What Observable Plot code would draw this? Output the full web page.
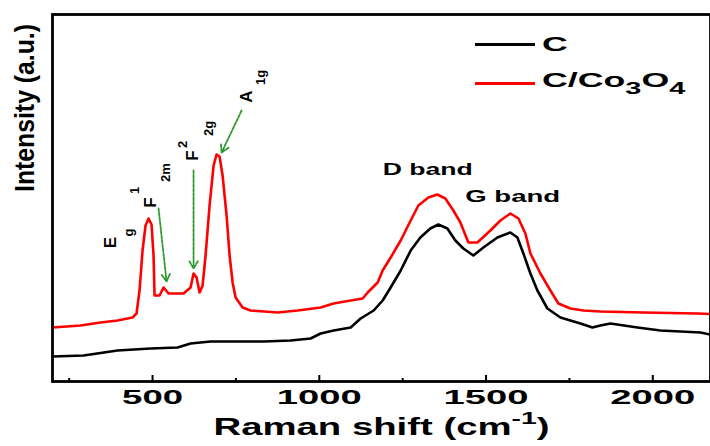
<!DOCTYPE html>
<html><head><meta charset="utf-8">
<script src="https://cdn.jsdelivr.net/npm/d3@7"></script>
<script src="https://cdn.jsdelivr.net/npm/@observablehq/plot@0.6"></script>
<style>
body{margin:0;background:#fff;}
#wrap{position:relative;width:710px;height:446px;font-family:"Liberation Sans",Arial,sans-serif;font-weight:bold;}
.leg{position:absolute;display:flex;align-items:center;font-size:21px;white-space:nowrap;}
.leg span.ln{display:inline-block;width:60px;height:3px;margin-right:7px;}
.leg span.tx{display:inline-block;transform:scaleX(1.7);transform-origin:left center;}
.leg sub{font-size:17px;vertical-align:-7px;}
</style></head>
<body><div id="wrap"></div>
<script>
// Raman shift (cm^-1) and intensity (a.u.)
const cX = [200,293,395,494,575,614,674,833,914,974,1004,1043,1094,1124,1163,1190,1214,1244,1274,1303,1333,1357,1384,1408,1432,1462,1492,1534,1573,1594,1612,1633,1654,1684,1723,1783,1819,1843,1873,1954,2023,2143,2200];
const cY = [25,26,31,33,34,38,40,40,41,43,48,51,54,63,71,81,94,111,131,144,153,157,153,141,133,126,134,144,149,144,128,108,91,73,64,58,54,56,58,54,51,49,45];
const coX = [200,284,344,395,440,452,461,470,479,488,497,503,506,521,533,548,593,614,623,632,641,650,659,671,683,692,701,710,722,731,740,749,770,794,875,935,1004,1043,1094,1130,1145,1175,1190,1214,1244,1274,1297,1327,1354,1378,1402,1423,1447,1474,1513,1543,1573,1597,1618,1633,1663,1693,1717,1753,1792,1843,1972,2134,2200];
const coY = [54,56,59,61,64,68,91,131,156,163,157,126,86,86,94,88,88,94,108,104,89,96,126,176,216,227,225,206,166,126,99,84,74,71,69,71,74,78,81,83,89,99,111,124,141,161,176,184,187,183,171,159,139,139,151,161,168,163,148,128,108,91,78,73,71,70,69,68,67];
const xTicks = [500,1000,1500,2000];
const xMinor = [250,750,1250,1750,2250];
const seriesNames = ["C","C/Co3O4"];
const seriesColors = ["#000000","#ff0000"];
// peak annotation pieces (rotated): main glyphs and sub/superscripts
const peakMain = ["E","F","F","A"];
const peakMainX = [374,494,620,782];
const peakMainY = [139,179,226,285];
const peakSub = ["g","1","2m","2","2g","1g"];
const peakSubX = [428,446,539,590,668,824];
const peakSubY = [149,191,209,237,253,304];
// arrows: from -> to
const arrX1 = [518,623,767];
const arrY1 = [173,211,271];
const arrX2 = [542,623,707];
const arrY2 = [100,113,229];
// band labels
const bandText = ["D band","G band"];
const bandX = [1325,1580];
const bandY = [212,185];

const rows = [];
cX.forEach((x,i)=>rows.push({s:seriesNames[0],x,y:cY[i]}));
coX.forEach((x,i)=>rows.push({s:seriesNames[1],x,y:coY[i]}));
const mains = peakMain.map((t,i)=>({t,x:peakMainX[i],y:peakMainY[i]}));
const subs = peakSub.map((t,i)=>({t,x:peakSubX[i],y:peakSubY[i]}));
const arrows = arrX1.map((x1,i)=>({x1,y1:arrY1[i],x2:arrX2[i],y2:arrY2[i]}));
const bands = bandText.map((t,i)=>({t,x:bandX[i],y:bandY[i]}));

const plot = Plot.plot({
  width:710, height:446,
  marginLeft:52, marginTop:14, marginBottom:65, marginRight:0,
  style:{fontFamily:"Liberation Sans, Arial, sans-serif", fontWeight:"bold", background:"#fff"},
  x:{domain:[200,2200], range:[52,719]},
  y:{domain:[0,367], range:[381,14]},
  color:{domain:seriesNames, range:seriesColors},
  marks:[
    Plot.line(rows,{x:"x",y:"y",z:"s",stroke:"s",strokeWidth:2.6}),
    Plot.arrow(arrows,{x1:"x1",y1:"y1",x2:"x2",y2:"y2",stroke:"#2f9a2f",strokeWidth:1.8,strokeDasharray:"3,1.5",headLength:7}),
    Plot.text(mains,{x:"x",y:"y",text:"t",rotate:-90,fontSize:17,fill:"#000"}),
    Plot.text(subs,{x:"x",y:"y",text:"t",rotate:-90,fontSize:13,fill:"#000"}),
    Plot.text(bands,{x:"x",y:"y",text:"t",fontSize:17,fill:"#000",className:"band"}),
    Plot.ruleX(xTicks,{x:d=>d,insetTop:361,strokeWidth:2}),
    Plot.ruleX(xMinor,{x:d=>d,insetTop:364,strokeWidth:2}),
    Plot.frame({stroke:"#000",strokeWidth:2.8}),
    Plot.axisX(xTicks,{tickSize:0,tickPadding:8,fontSize:21,fontWeight:"bold",label:null,tickFormat:d=>String(d),className:"xtick"}),
    Plot.axisY({ticks:[],label:null}),
    Plot.text(["Raman shift (cm-1)"],{frameAnchor:"bottom",dy:53,fontSize:23,className:"xtitle"}),
    Plot.text(["Intensity (a.u.)"],{frameAnchor:"left",dx:-27,dy:-6,rotate:-90,fontSize:27,className:"ytitle"})
  ]
});
const wrap = document.getElementById("wrap");
wrap.appendChild(plot);
const svg = d3.select(plot);
// superscript on x title
svg.selectAll(".xtitle text").each(function(){
  const t = d3.select(this); t.text(null);
  t.append("tspan").text("Raman shift (cm");
  t.append("tspan").attr("dy","-11").attr("font-size","17").text("-1");
  t.append("tspan").attr("dy","11").text(")");
  t.attr("textLength",336).attr("lengthAdjust","spacingAndGlyphs");
});
svg.selectAll(".xtick text").each(function(){
  const s = d3.select(this).text();
  d3.select(this).attr("textLength", s.length===3?61:85).attr("lengthAdjust","spacingAndGlyphs");
});
svg.selectAll(".band text").each(function(){
  const s = d3.select(this).text();
  d3.select(this).attr("textLength", s[0]==="D"?90:95).attr("lengthAdjust","spacingAndGlyphs");
});
svg.selectAll(".ytitle text").attr("textLength",168).attr("lengthAdjust","spacingAndGlyphs");
// legend
seriesNames.forEach((n,i)=>{
  const d = document.createElement("div");
  d.className="leg";
  d.style.left="475px"; d.style.top=(i===0?32:68)+"px";
  d.innerHTML = `<span class="ln" style="background:${seriesColors[i]}"></span><span class="tx">` + (i===0?"C":"C/Co<sub>3</sub>O<sub>4</sub>") + `</span>`;
  wrap.appendChild(d);
});
</script></body></html>
